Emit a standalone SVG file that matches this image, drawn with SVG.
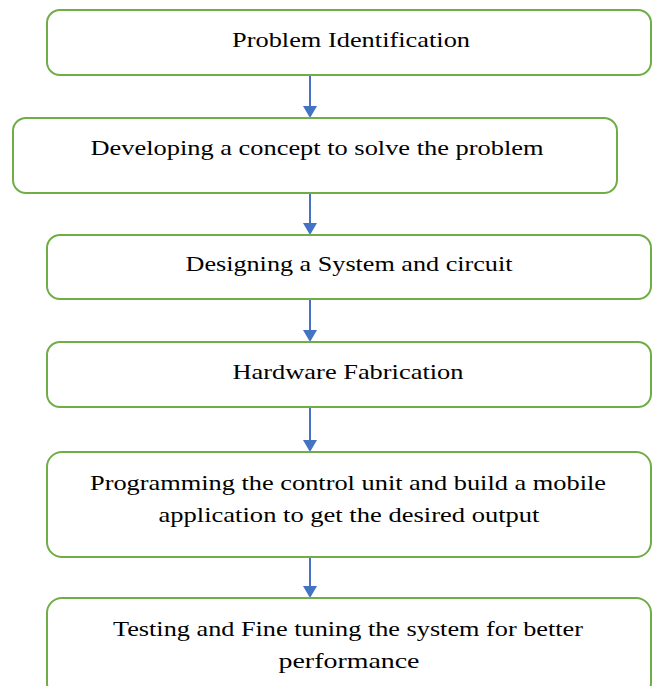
<svg xmlns="http://www.w3.org/2000/svg" width="654" height="686" viewBox="0 0 654 686">
  <style>
    .box { fill: #ffffff; stroke: #70ad47; stroke-width: 2; }
    .lbl { font-family: 'Liberation Serif', 'Times New Roman', serif; font-size: 22px; fill: #000000; text-anchor: middle; }
    .conn { stroke: #4472c4; stroke-width: 2; fill: none; marker-end: url(#arrow); }
  </style>
  <defs>
    <marker id="arrow" markerWidth="6" markerHeight="7" refX="5" refY="3.5" orient="auto" markerUnits="strokeWidth">
      <path d="M0,0 L6,3.5 L0,7 Z" fill="#4472c4"/>
    </marker>
  </defs>
  <rect width="654" height="686" fill="#ffffff"/>

  <!-- vertical flow arrows between the steps -->
  <g id="connectors">
    <line class="conn" x1="310" y1="75" x2="310" y2="116"/>
    <line class="conn" x1="310" y1="193" x2="310" y2="233"/>
    <line class="conn" x1="310" y1="299" x2="310" y2="340"/>
    <line class="conn" x1="310" y1="407" x2="310" y2="450"/>
    <line class="conn" x1="310" y1="557" x2="310" y2="596"/>
  </g>

  <g id="problem-identification">
    <rect class="box" x="47" y="10" width="604" height="65" rx="13"/>
    <text class="lbl" x="351" y="47" textLength="238" lengthAdjust="spacingAndGlyphs">Problem Identification</text>
  </g>

  <g id="concept">
    <rect class="box" x="13" y="118" width="604" height="75" rx="13"/>
    <text class="lbl" x="317" y="155" textLength="453" lengthAdjust="spacingAndGlyphs">Developing a concept to solve the problem</text>
  </g>

  <g id="design">
    <rect class="box" x="47" y="235" width="604" height="64" rx="13"/>
    <text class="lbl" x="349" y="271" textLength="327" lengthAdjust="spacingAndGlyphs">Designing  a System and circuit</text>
  </g>

  <g id="fabrication">
    <rect class="box" x="47" y="342" width="604" height="65" rx="13"/>
    <text class="lbl" x="348" y="379" textLength="231" lengthAdjust="spacingAndGlyphs">Hardware Fabrication</text>
  </g>

  <g id="programming">
    <rect class="box" x="47" y="452" width="604" height="105" rx="15"/>
    <text class="lbl" x="348" y="490" textLength="516" lengthAdjust="spacingAndGlyphs">Programming the control unit and build a mobile</text>
    <text class="lbl" x="349" y="522" textLength="381" lengthAdjust="spacingAndGlyphs">application to get the desired output</text>
  </g>

  <g id="testing">
    <rect class="box" x="47" y="598" width="604" height="100" rx="15"/>
    <text class="lbl" x="348" y="636" textLength="470" lengthAdjust="spacingAndGlyphs">Testing and Fine tuning the system for better</text>
    <text class="lbl" x="349" y="668" textLength="141" lengthAdjust="spacingAndGlyphs">performance</text>
  </g>
</svg>
